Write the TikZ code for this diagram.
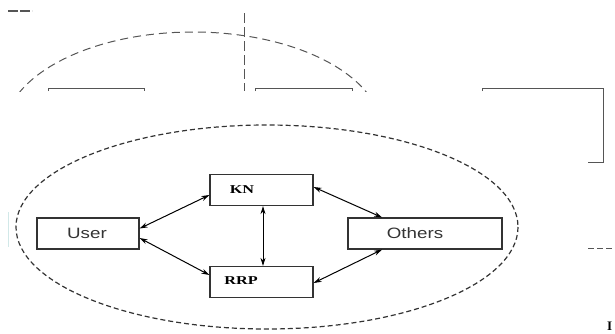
\documentclass[tikz,border=0pt]{standalone}
\usepackage{fontspec}
\setmainfont{Liberation Serif}
\newfontfamily\widesans[FakeStretch=1.25]{Liberation Sans}
\newfontfamily\wideserif[FakeStretch=1.35]{Liberation Serif}
\usetikzlibrary{arrows.meta}
\definecolor{lineclr}{HTML}{333333}
\definecolor{fragclr}{HTML}{555555}
\tikzset{
  mainbox/.style={draw=lineclr, line width=1.2pt, minimum height=31pt, inner sep=0pt},
  sanslabel/.style={font=\widesans\fontsize{15}{15}\selectfont, text=lineclr, inner sep=0pt},
  seriflabel/.style={font=\wideserif\bfseries\fontsize{12}{12}\selectfont, text=black, inner sep=0pt},
  link/.style={draw=black, line width=1pt, {Stealth[length=8pt,width=5pt]}-{Stealth[length=8pt,width=5pt]}},
  boundary/.style={draw=lineclr, line width=1.2pt, dash pattern=on 5pt off 3pt},
  fragline/.style={draw=fragclr, line width=1pt},
  fragdash/.style={draw=fragclr, line width=1pt, dash pattern=on 8pt off 5pt}
}
\begin{document}
\begin{tikzpicture}[x=1pt,y=-1pt]
\useasboundingbox (0,0) rectangle (615,333);
% --- top fragment of another figure ---
\draw[fragline, line width=1.5pt, dash pattern=on 10pt off 2pt] (8,11) -- (32,11);
\begin{scope}
  \clip (0,0) rectangle (615,91);
  \draw[fragdash] (193,132) ellipse [x radius=189, y radius=100];
  \draw[fragdash, line width=0.8pt, dash pattern=on 10pt off 4pt] (244,13) -- (244,91);
\end{scope}
\draw[fragline] (48,91) -- (48,88) -- (144,88) -- (144,91);
\draw[fragline] (255,91) -- (255,88) -- (352,88) -- (352,91);
\draw[fragline] (482,91) -- (482,88) -- (603,88) -- (603,162) -- (588,162);
\draw[fragline, dash pattern=on 6pt off 3pt] (588,248) -- (615,248);
\draw[draw=teal!18, line width=0.7pt] (8,212) -- (8,247);
\node[font=\bfseries\fontsize{13}{13}\selectfont, inner sep=0pt, anchor=west] (lettI) at (607,326) {I};
% --- main diagram ---
\draw[boundary] (267,227) ellipse [x radius=251, y radius=102];
\node[mainbox, minimum width=102pt] (User) at (88,233.5) {};
\node[mainbox, minimum width=103pt] (KN) at (261.5,190) {};
\node[mainbox, minimum width=103pt] (RRP) at (261.5,282) {};
\node[mainbox, minimum width=154pt] (Others) at (425,233.5) {};
\node[sanslabel] (UserT) at (87,233) {User};
\node[sanslabel] (OthersT) at (415,233) {Others};
\node[seriflabel] (KNT) at (242,190) {KN};
\node[seriflabel] (RRPT) at (241,281) {RRP};
\draw[link] ([yshift=5pt]User.east) -- ([yshift=-5pt]KN.west);
\draw[link] ([yshift=-4.5pt]User.east) -- ([yshift=7pt]RRP.west);
\draw[link] ([xshift=1.5pt]KN.south) -- ([xshift=1.5pt]RRP.north);
\draw[link] ([yshift=3pt]KN.east) -- ([xshift=-43pt]Others.north);
\draw[link] ([yshift=-1pt]RRP.east) -- ([xshift=-43pt]Others.south);
\end{tikzpicture}
\end{document}
